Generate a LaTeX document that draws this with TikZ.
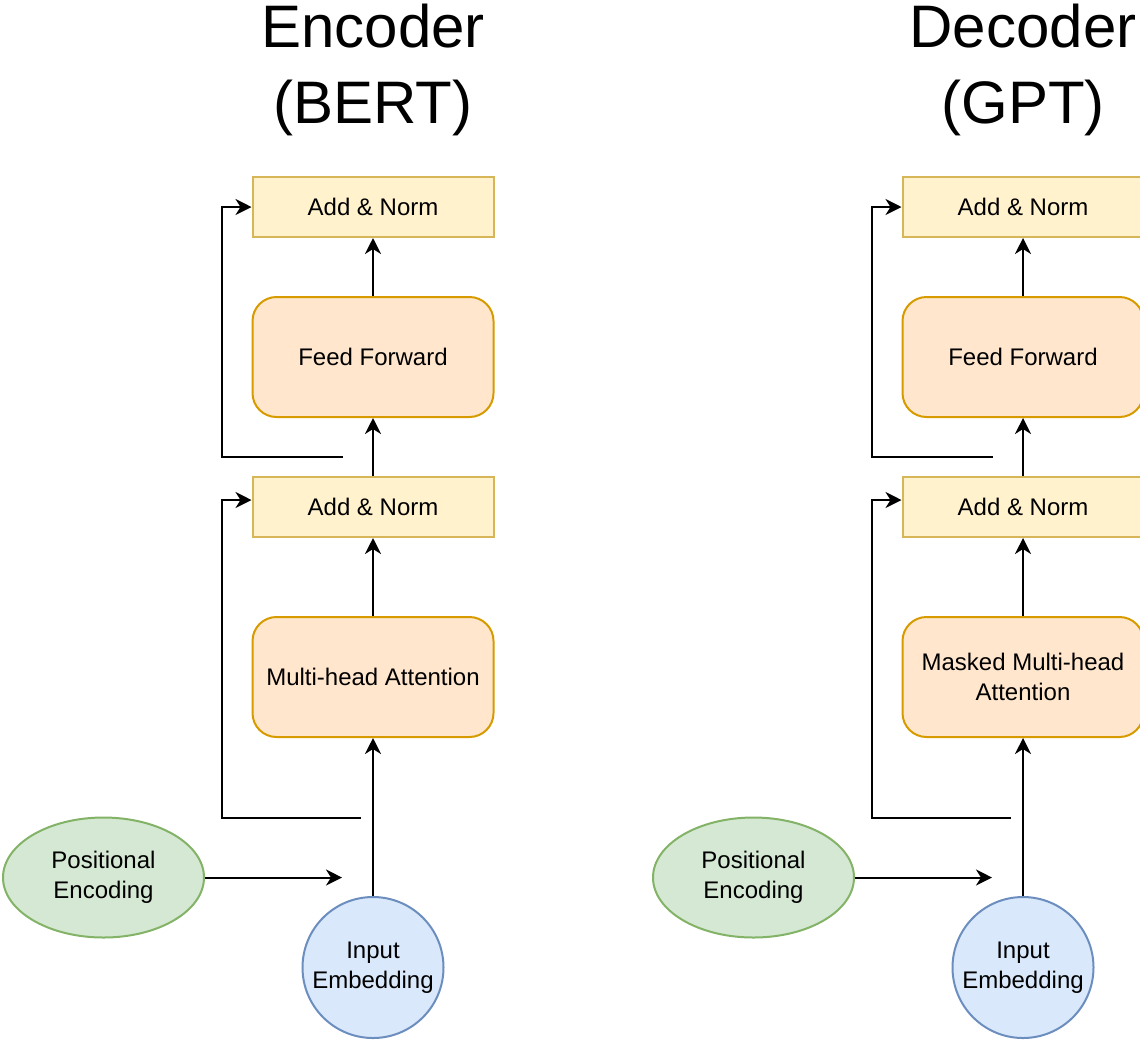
\documentclass[tikz,border=0pt]{standalone}
\usepackage{fontspec}
\setmainfont{Liberation Sans}
\usetikzlibrary{arrows.meta, positioning, shapes.geometric}
\definecolor{cnormfill}{HTML}{FFF2CC}
\definecolor{cnormline}{HTML}{D6B656}
\definecolor{cblockfill}{HTML}{FFE6CC}
\definecolor{cblockline}{HTML}{D79B00}
\definecolor{cposfill}{HTML}{D5E8D4}
\definecolor{cposline}{HTML}{82B366}
\definecolor{cinfill}{HTML}{DAE8FC}
\definecolor{cinline}{HTML}{6C8EBF}
\tikzset{
  every picture/.style={line width=1pt, font=\fontsize{12}{15}\selectfont},
  normbox/.style={draw=cnormline, fill=cnormfill, minimum width=120.5pt, minimum height=30pt, inner sep=2pt, align=center},
  blockbox/.style={draw=cblockline, fill=cblockfill, rounded corners=12pt, minimum width=120.5pt, minimum height=60pt, inner sep=2pt, align=center},
  posnode/.style={ellipse, draw=cposline, fill=cposfill, minimum width=100.5pt, minimum height=60pt, inner sep=0pt, align=center},
  innode/.style={circle, draw=cinline, fill=cinfill, minimum size=70.5pt, inner sep=0pt, align=center},
  arrow/.style={-{Stealth[length=8pt, width=8pt, inset=2.5pt]}, draw=black},
  title/.style={font=\fontsize{30}{38}\selectfont, align=center},
}

\begin{document}
\begin{tikzpicture}[x=0.5pt, y=-0.5pt]
  \useasboundingbox (0,0) rectangle (1140,1040);
  % encoder side
  \node[title] (enctitle) at (373,70) {Encoder\\(BERT)};
  \node[innode] (encin) at (373,967.5) {Input\\Embedding};
  \node[blockbox, above=79pt of encin] (encattn) {Multi-head Attention};
  \node[normbox, above=39pt of encattn] (encnorm1) {Add \& Norm};
  \node[blockbox, above=29pt of encnorm1] (encff) {Feed Forward};
  \node[normbox, above=29pt of encff] (encnorm2) {Add \& Norm};
  \node[posnode] (encpos) at (103.5,877.5) {Positional\\Encoding};
  \coordinate (encposend) at (342,877.5);
  \coordinate (encres1) at (361,818);
  \coordinate (encres2) at (343,457);
  \draw[arrow] (encin) -- (encattn);
  \draw[arrow] (encattn) -- (encnorm1);
  \draw[arrow] (encnorm1) -- (encff);
  \draw[arrow] (encff) -- (encnorm2);
  \draw[arrow] (encpos) -- (encposend);
  \draw[arrow] (encres1) -| ([xshift=-15pt, yshift=3.5pt]encnorm1.west) -- ([yshift=3.5pt]encnorm1.west);
  \draw[arrow] (encres2) -| ([xshift=-15pt]encnorm2.west) -- (encnorm2.west);

  % decoder side
  \node[title] (dectitle) at (1023,70) {Decoder\\(GPT)};
  \node[innode] (decin) at (1023,967.5) {Input\\Embedding};
  \node[blockbox, above=79pt of decin] (decattn) {Masked Multi-head\\Attention};
  \node[normbox, above=39pt of decattn] (decnorm1) {Add \& Norm};
  \node[blockbox, above=29pt of decnorm1] (decff) {Feed Forward};
  \node[normbox, above=29pt of decff] (decnorm2) {Add \& Norm};
  \node[posnode] (decpos) at (753.5,877.5) {Positional\\Encoding};
  \coordinate (decposend) at (992,877.5);
  \coordinate (decres1) at (1011,818);
  \coordinate (decres2) at (993,457);
  \draw[arrow] (decin) -- (decattn);
  \draw[arrow] (decattn) -- (decnorm1);
  \draw[arrow] (decnorm1) -- (decff);
  \draw[arrow] (decff) -- (decnorm2);
  \draw[arrow] (decpos) -- (decposend);
  \draw[arrow] (decres1) -| ([xshift=-15pt, yshift=3.5pt]decnorm1.west) -- ([yshift=3.5pt]decnorm1.west);
  \draw[arrow] (decres2) -| ([xshift=-15pt]decnorm2.west) -- (decnorm2.west);
\end{tikzpicture}
\end{document}
